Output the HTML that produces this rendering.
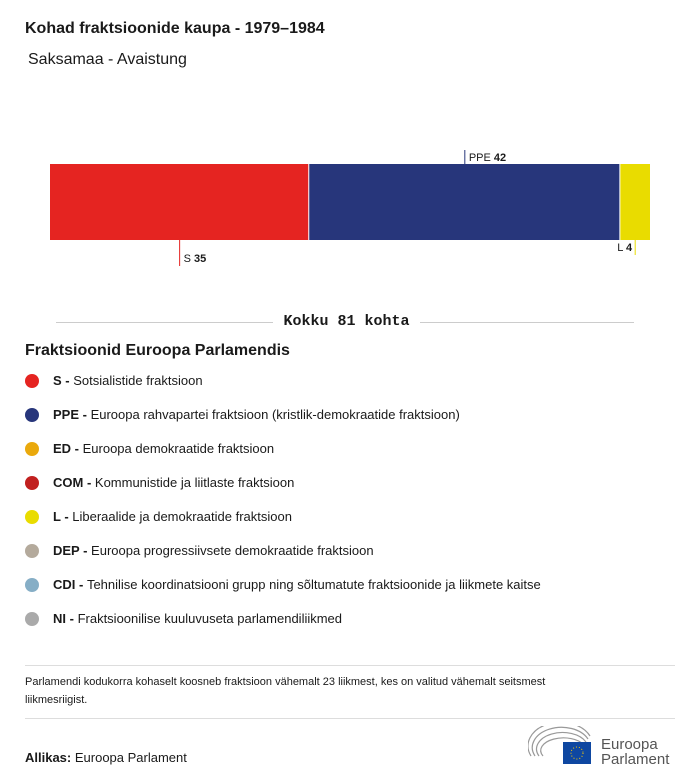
<!DOCTYPE html>
<html><head><meta charset="utf-8"><style>
body{margin:0;width:700px;height:784px;background:#fff;font-family:"Liberation Sans",sans-serif;color:#1a1a1a;position:relative;overflow:hidden}
.a{position:absolute}
.leg{position:absolute;left:25px;font-size:13px;display:flex;align-items:center}
.dot{width:14px;height:14px;border-radius:50%;margin-right:14px}
</style></head><body>
<div class="a" style="left:25px;top:20px;font-size:16px;font-weight:bold">Kohad fraktsioonide kaupa - 1979–1984</div>
<div class="a" style="left:28px;top:51px;font-size:16px">Saksamaa - Avaistung</div>
<svg class="a" style="left:0;top:0" width="700" height="340" id="chart"></svg>
<div class="a" style="left:56px;top:322px;width:217px;height:1px;background:#ccc"></div>
<div class="a" style="left:420px;top:322px;width:214px;height:1px;background:#ccc"></div>
<div class="a" style="left:273px;top:313px;width:147px;text-align:center;font-family:'Liberation Mono',monospace;font-weight:bold;font-size:15px">Kokku 81 kohta</div>
<div class="a" style="left:25px;top:342px;font-size:16px;font-weight:bold">Fraktsioonid Euroopa Parlamendis</div>
<div class="leg" style="top:373px"><span class="dot" style="background:#e52421"></span><b>S -</b>&nbsp;Sotsialistide fraktsioon</div>
<div class="leg" style="top:407px"><span class="dot" style="background:#27367b"></span><b>PPE -</b>&nbsp;Euroopa rahvapartei fraktsioon (kristlik-demokraatide fraktsioon)</div>
<div class="leg" style="top:441px"><span class="dot" style="background:#eaa90c"></span><b>ED -</b>&nbsp;Euroopa demokraatide fraktsioon</div>
<div class="leg" style="top:475px"><span class="dot" style="background:#c1201f"></span><b>COM -</b>&nbsp;Kommunistide ja liitlaste fraktsioon</div>
<div class="leg" style="top:509px"><span class="dot" style="background:#e9dc00"></span><b>L -</b>&nbsp;Liberaalide ja demokraatide fraktsioon</div>
<div class="leg" style="top:543px"><span class="dot" style="background:#b4aa9c"></span><b>DEP -</b>&nbsp;Euroopa progressiivsete demokraatide fraktsioon</div>
<div class="leg" style="top:577px"><span class="dot" style="background:#86aec6"></span><b>CDI -</b>&nbsp;Tehnilise koordinatsiooni grupp ning sõltumatute fraktsioonide ja liikmete kaitse</div>
<div class="leg" style="top:611px"><span class="dot" style="background:#aaa"></span><b>NI -</b>&nbsp;Fraktsioonilise kuuluvuseta parlamendiliikmed</div>
<div class="a" style="left:25px;top:665px;width:650px;height:1px;background:#ddd"></div>
<div class="a" style="left:25px;top:673px;width:640px;font-size:11px;line-height:18px">Parlamendi kodukorra kohaselt koosneb fraktsioon vähemalt 23 liikmest, kes on valitud vähemalt seitsmest<br>liikmesriigist.</div>
<div class="a" style="left:25px;top:718px;width:650px;height:1px;background:#ddd"></div>
<div class="a" style="left:25px;top:750px;font-size:13px"><b>Allikas:</b> Euroopa Parlament</div>
<svg class="a" style="left:528px;top:726px" width="160" height="50">
<g fill="none" stroke="#999" stroke-width="1.2"><path d="M3 30 A30 22 0 0 1 62 10"/><path d="M7 30 A26 18 0 0 1 60 13"/><path d="M11 30 A22 14 0 0 1 58 16"/><path d="M15 30 A18 10 0 0 1 56 19"/></g>
<rect x="35" y="16" width="28" height="22" fill="#0e47a1"/>
<circle cx="49" cy="27" r="6" fill="none" stroke="#fc0" stroke-dasharray="1 2"/>
<text x="73" y="23" font-size="15" fill="#555" font-family="Liberation Sans">Euroopa</text>
<text x="73" y="38" font-size="15" fill="#555" font-family="Liberation Sans">Parlament</text>
</svg>
<script>
const parties=["S","PPE","L"];
const seats=[35,42,4];
const colors=["#e52421","#27367b","#e9dc00"];
const labelSide=["below","above","belowLeft"];
const svg=document.getElementById('chart');
const NS="http://www.w3.org/2000/svg";
const total=seats.reduce((a,b)=>a+b,0);
const x0=50,w=600,y0=164,h=76;
const sx=v=>x0+v/total*w;
let cum=0;
seats.forEach((v,i)=>{
 const xa=sx(cum),xb=sx(cum+v);cum+=v;
 const r=document.createElementNS(NS,'rect');
 r.setAttribute('x',xa);r.setAttribute('y',y0);r.setAttribute('width',xb-xa-(i<seats.length-1?1:0));r.setAttribute('height',h);r.setAttribute('fill',colors[i]);
 
 
 svg.appendChild(r);
 const mx=(xa+xb)/2;
 const l=document.createElementNS(NS,'line');
 const t=document.createElementNS(NS,'text');
 t.setAttribute('font-size','11');t.setAttribute('font-family','Liberation Sans');t.setAttribute('fill','#1a1a1a');
 t.innerHTML=parties[i]+' <tspan font-weight="bold">'+v+'</tspan>';
 let ly1,ly2;
 if(labelSide[i]==='above'){ly1=150;ly2=y0;t.setAttribute('x',mx+4);t.setAttribute('y',161);}
 else if(labelSide[i]==='below'){ly1=y0+h;ly2=266;t.setAttribute('x',mx+4);t.setAttribute('y',262);}
 else {ly1=y0+h;ly2=255;t.setAttribute('x',mx-3);t.setAttribute('y',251);t.setAttribute('text-anchor','end');}
 l.setAttribute('x1',mx);l.setAttribute('x2',mx);l.setAttribute('y1',ly1);l.setAttribute('y2',ly2);l.setAttribute('stroke',colors[i]);
 
 
 
 
 svg.appendChild(l);svg.appendChild(t);
});
</script>
</body></html>
